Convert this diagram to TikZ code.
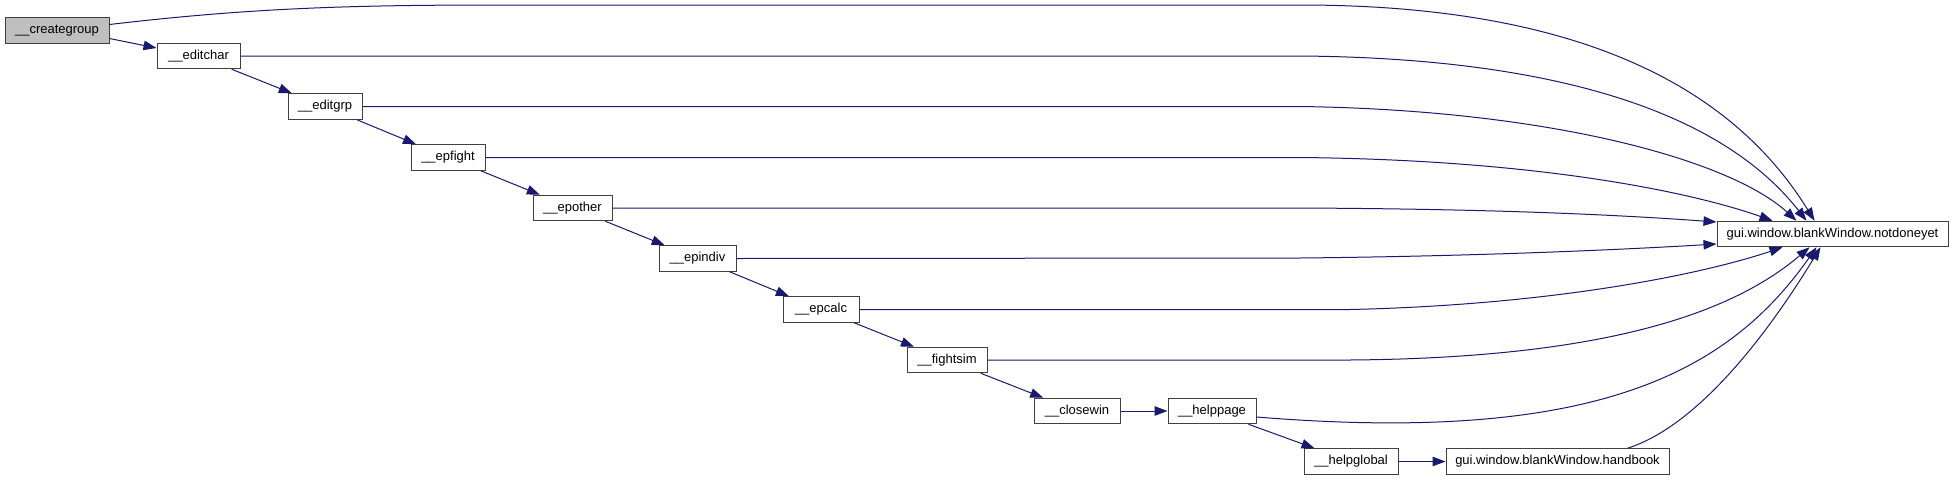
\documentclass[tikz,border=0pt]{standalone}
\usepackage{fontspec}
\setmainfont{Liberation Sans}
\usetikzlibrary{arrows.meta,calc}
\definecolor{edgeblue}{RGB}{25,25,112}
\definecolor{rootgray}{RGB}{191,191,191}
\definecolor{boxline}{RGB}{64,64,64}
\begin{document}
\begin{tikzpicture}[x=1pt,y=-1pt,
  fn/.style={draw=boxline, line width=1pt, fill=white, minimum height=25.5pt, inner sep=0pt,
    font=\fontsize{13}{15}\selectfont, text=black},
  edge/.style={draw=edgeblue, line width=1pt, -{Triangle[length=13pt,width=9.5pt]}}]
\useasboundingbox (0,0) rectangle (1952,480);
\fill[white] (0,0) rectangle (1952,480);
% nodes
\node[fn, fill=rootgray, minimum width=104pt] (cg) at (57,30.5) {\_\_creategroup};
\node[fn, minimum width=83pt] (ec) at (198.5,56) {\_\_editchar};
\node[fn, minimum width=74pt] (eg) at (325,106.5) {\_\_editgrp};
\node[fn, minimum width=74pt] (ef) at (448,157.5) {\_\_epfight};
\node[fn, minimum width=79pt] (eo) at (572.5,208) {\_\_epother};
\node[fn, minimum width=77pt] (ei) at (697.5,258.5) {\_\_epindiv};
\node[fn, minimum width=76pt] (ep) at (821,309.5) {\_\_epcalc};
\node[fn, minimum width=80pt] (fs) at (947,360) {\_\_fightsim};
\node[fn, minimum width=86pt] (cw) at (1077,411) {\_\_closewin};
\node[fn, minimum width=88pt] (hp) at (1212,411) {\_\_helppage};
\node[fn, minimum width=94pt] (hg) at (1351,461.5) {\_\_helpglobal};
\node[fn, minimum width=223pt] (hb) at (1557.5,461.5) {gui.window.blankWindow.handbook};
\node[fn, minimum width=231pt] (nd) at (1832.5,234) {gui.window.blankWindow.notdoneyet};
% chain
\draw[edge] ($(cg.east)+(0,8)$) -- ($(ec.west)+(0,-8)$);
\draw[edge] (ec) -- (eg);
\draw[edge] (eg) -- (ef);
\draw[edge] (ef) -- (eo);
\draw[edge] (eo) -- (ei);
\draw[edge] (ei) -- (ep);
\draw[edge] (ep) -- (fs);
\draw[edge] (fs) -- (cw);
\draw[edge] (cw) -- (hp);
\draw[edge] (hp) -- (hg);
\draw[edge] (hg) -- (hb);
% to notdoneyet
\draw[edge] ($(cg.east)+(0,-6)$) .. controls (250,8) and (350,5) .. (500,5) -- (1300,5)
  .. controls (1600,5) and (1740,100) .. ($(nd.north west)+(98,0)$);
\draw[edge] (ec.east) -- (1300,56) .. controls (1550,58) and (1720,110) .. ($(nd.north west)+(90,0)$);
\draw[edge] (eg.east) -- (1300,106.5) .. controls (1550,110) and (1730,160) .. ($(nd.north west)+(80,0)$);
\draw[edge] (ef.east) -- (1300,157.5) .. controls (1550,160) and (1700,195) .. ($(nd.north west)+(56,0)$);
\draw[edge] (eo.east) -- (1300,208) .. controls (1500,209) and (1620,215) .. ($(nd.west)+(0,-12)$);
\draw[edge] (ei.east) -- (1300,258) .. controls (1500,256) and (1650,248) .. ($(nd.west)+(0,10)$);
\draw[edge] (ep.east) -- (1350,309.5) .. controls (1550,305) and (1700,275) .. ($(nd.south west)+(66,0)$);
\draw[edge] (fs.east) -- (1350,360) .. controls (1600,358) and (1730,315) .. ($(nd.south west)+(93,0)$);
\draw[edge] ($(hp.east)+(0,6)$) .. controls (1600,445) and (1730,370) .. ($(nd.south west)+(100,0)$);
\draw[edge] ($(hb.north)+(70,0)$) .. controls (1700,425) and (1770,330) .. ($(nd.south west)+(104,0)$);
\end{tikzpicture}
\end{document}
